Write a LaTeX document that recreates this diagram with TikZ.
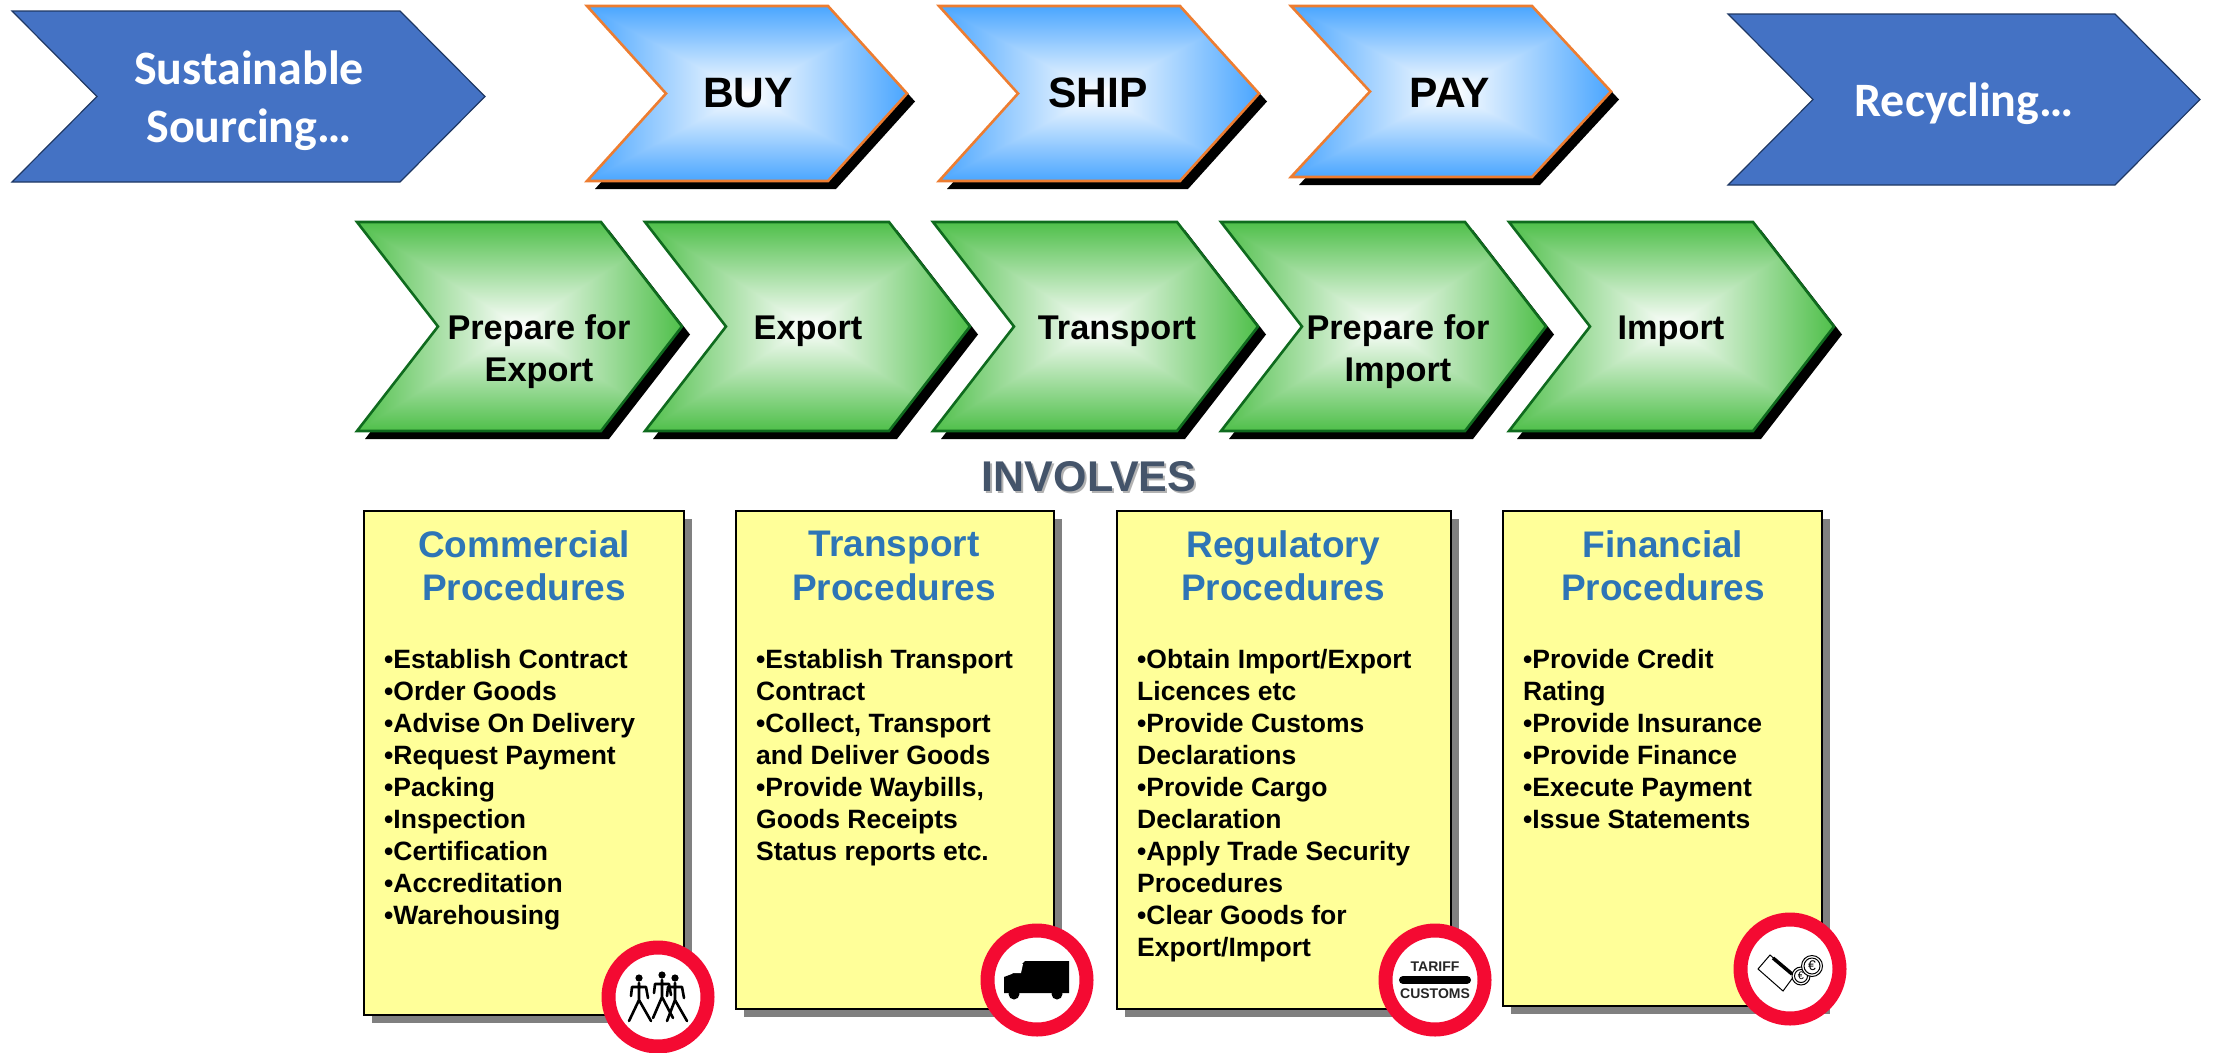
\documentclass[tikz,border=0pt]{standalone}
\usepackage{fontspec}
\setmainfont{Liberation Sans}
\newfontfamily\carlitofont{Carlito}
\usepackage{tikz}
\usetikzlibrary{calc}

\definecolor{chevnavy}{HTML}{4472C4}
\definecolor{chevnavyline}{HTML}{1F3864}
\definecolor{chevorange}{HTML}{ED7D31}
\definecolor{chevgreenline}{HTML}{0F6B1E}
\definecolor{headblue}{HTML}{2E75B6}
\definecolor{involvesgrey}{HTML}{44546A}
\definecolor{boxyellow}{HTML}{FFFF99}
\definecolor{signred}{HTML}{F40A32}

% Rectangular glow, white at the centre and coloured at the sides
\pgfdeclarefunctionalshading{blueglow}{\pgfpoint{-50bp}{-50bp}}{\pgfpoint{50bp}{50bp}}{}{
    abs 25 div exch abs 25 div 2 copy lt {exch} if pop
    dup 0.71 mul 1 exch sub exch dup 0.35 mul 1 exch sub exch 0 mul 1 exch sub
}
\pgfdeclarefunctionalshading{greenglow}{\pgfpoint{-50bp}{-50bp}}{\pgfpoint{50bp}{50bp}}{}{
    abs 25 div exch abs 25 div 2 copy lt {exch} if pop
    dup 0.69 mul 1 exch sub exch dup 0.25 mul 1 exch sub exch 0.71 mul 1 exch sub
}

% x, y of the top left corner, top width, height, tip length
\newcommand{\chevpath}[5]{(#1,#2) -- ++(#3,0) -- ++(#5,#4/2) -- ++(-#5,#4/2)
    -- ++(-#3,0) -- ++(#5,-#4/2) -- cycle}

\tikzset{
    bluechev/.style={shading=blueglow, draw=chevorange, line width=2.6pt},
    greenchev/.style={shading=greenglow, draw=chevgreenline, line width=2.6pt},
    navychev/.style={fill=chevnavy, draw=chevnavyline, line width=1.2pt},
    chevshadow/.style={fill=black, shift={(8,8)}},
    bluetext/.style={font=\fontsize{42.5}{50}\selectfont\bfseries},
    greentext/.style={font=\fontsize{34.3}{42}\selectfont\bfseries, align=center},
    navytext/.style={font=\fontsize{48}{58}\selectfont\carlitofont\bfseries, text=white, align=center},
    procbox/.style={fill=boxyellow, draw=black, line width=2.4pt},
    boxshadow/.style={fill=black!50, shift={(8,8)}},
    headtext/.style={font=\fontsize{37}{43.5}\selectfont\bfseries, text=headblue, align=center},
    bodytext/.style={font=\fontsize{26.5}{32}\selectfont\bfseries, align=left, anchor=north west, inner sep=0pt},
    signring/.style={circle, draw=signred, fill=white, line width=14pt, minimum size=99pt, inner sep=0pt},
    walker/.style={line width=2.6pt, line cap=round, line join=round},
}

\begin{document}
\begin{tikzpicture}[x=1pt, y=-1pt]

    \useasboundingbox (0,0) rectangle (2215,1052);

    % Outer dark arrows
    \draw[navychev] \chevpath{12}{11}{388}{171}{85};
    \draw[navychev] \chevpath{1728}{14}{387}{171}{85};
    \node[navytext] (sourcing) at (249,101) {Sustainable\\Sourcing\dots};
    \node[navytext] (recycling) at (1964,104) {Recycling\dots};

    % Buy, ship, pay
    \foreach \x/\lx/\hgt/\nm/\txt in {587/748/175/buy/BUY, 939/1098/175/ship/SHIP, 1291/1450/171/pay/PAY} {
        \fill[chevshadow] \chevpath{\x}{6}{241}{\hgt}{79};
        \draw[bluechev] \chevpath{\x}{6}{241}{\hgt}{79};
        \node[bluetext] (\nm) at (\lx,93) {\txt};
    }

    % Five green steps
    \foreach \x/\lx/\ly/\nm/\txt in {357/539/352/prepexport/Prepare for\\Export, 645/808/331/export/Export,
        933/1117/331/transport/Transport, 1221/1398/352/prepimport/Prepare for\\Import, 1509/1671/331/import/Import} {
        \fill[chevshadow] \chevpath{\x}{222}{244}{209}{81};
        \draw[greenchev] \chevpath{\x}{222}{244}{209}{81};
        \node[greentext] (\nm) at (\lx,\ly) {\txt};
    }

    \node[font=\fontsize{43}{50}\selectfont\bfseries, text=black!30] (involvesshadow) at (1091,479) {INVOLVES};
    \node[font=\fontsize{43}{50}\selectfont\bfseries, text=involvesgrey] (involves) at (1089,477) {INVOLVES};

    % Yellow boxes
    \foreach \xa/\xb/\yb in {364/684/1015, 736/1054/1009, 1117/1451/1009, 1503/1822/1006} {
        \fill[boxshadow] (\xa,511) rectangle (\xb,\yb);
        \draw[procbox] (\xa,511) rectangle (\xb,\yb);
    }

    \node[headtext] (commercial) at (524,566) {Commercial\\Procedures};
    \node[headtext] (transporthead) at (894,566) {Transport\\Procedures};
    \node[headtext] (regulatory) at (1283,566) {Regulatory\\Procedures};
    \node[headtext] (financial) at (1663,566) {Financial\\Procedures};

    \node[bodytext] (commerciallist) at (384,649) {\textbullet Establish Contract\\
        \textbullet Order Goods\\ \textbullet Advise On Delivery\\ \textbullet Request Payment\\
        \textbullet Packing\\ \textbullet Inspection\\ \textbullet Certification\\
        \textbullet Accreditation\\ \textbullet Warehousing};
    \node[bodytext] (transportlist) at (756,649) {\textbullet Establish Transport\\ Contract\\
        \textbullet Collect, Transport\\ and Deliver Goods\\ \textbullet Provide Waybills,\\
        Goods Receipts\\ Status reports etc.};
    \node[bodytext] (regulatorylist) at (1137,649) {\textbullet Obtain Import/Export\\ Licences etc\\
        \textbullet Provide Customs\\ Declarations\\ \textbullet Provide Cargo\\ Declaration\\
        \textbullet Apply Trade Security\\ Procedures\\ \textbullet Clear Goods for\\ Export/Import};
    \node[bodytext] (financiallist) at (1523,649) {\textbullet Provide Credit\\ Rating\\
        \textbullet Provide Insurance\\ \textbullet Provide Finance\\ \textbullet Execute Payment\\
        \textbullet Issue Statements};

    % Round signs
    \node[signring] (peoplesign) at (658,997) {};
    \node[signring] (trucksign) at (1037,980) {};
    \node[signring] (tariffsign) at (1435,980) {};
    \node[signring] (moneysign) at (1790,969) {};

    % Three people walking
    \begin{scope}[shift={(peoplesign.center)}]
        \foreach \hx/\hy/\fl/\fr in {-19/-19/-29/-7, 4/-22/-5/15, 17/-19/9/29} {
            \fill (\hx,\hy) circle (3.6);
            \draw[walker] (\hx,\hy+5) -- (\hx,\hy+22)
                (\hx-8,\hy+18) -- (\hx-7,\hy+9) -- (\hx+7,\hy+9) -- (\hx+9,\hy+20)
                (\fl,\hy+43) -- (\hx,\hy+22) -- (\fr,\hy+43);
        }
    \end{scope}

    % Truck
    \begin{scope}[shift={(trucksign.center)}]
        \fill (-12,-19) -- (32,-19) -- (32,13) -- (-33,13) -- (-33,-3) -- (-25,-6) -- cycle;
        \fill (-23,14) circle (5.5);
        \fill (20,14) circle (5.5);
        \fill[white] (-23,-16) -- (-14,-16) -- (-16,-7) -- (-25,-7) -- cycle;
    \end{scope}

    % Tariff and customs
    \node[font=\fontsize{14}{16}\selectfont\bfseries, text=black!85] (tarifftext) at (1435,967) {TARIFF};
    \node[font=\fontsize{14}{16}\selectfont\bfseries, text=black!85] (customstext) at (1435,994) {CUSTOMS};
    \draw[line width=8pt, line cap=round] ([xshift=-32pt]tariffsign.center) -- ([xshift=32pt]tariffsign.center);

    % Card and coins
    \begin{scope}[shift={(moneysign.center)}]
        \draw[line width=1pt, fill=white] (-20,-14) -- (-32,0) -- (-7,22) -- (4,7) -- cycle;
        \draw[line width=3.5pt] (-17,-11) -- (2,5);
        \draw[line width=1pt, fill=white] (11,7) circle (9);
        \draw[line width=1pt] (11,7) circle (6.5);
        \node[font=\fontsize{11}{12}\selectfont] (coinb) at (11,7) {€};
        \draw[line width=1pt, fill=white] (22,-3) circle (10.5);
        \draw[line width=1pt] (22,-3) circle (8);
        \node[font=\fontsize{14}{14}\selectfont] (coina) at (22,-3) {€};
    \end{scope}

\end{tikzpicture}
\end{document}
